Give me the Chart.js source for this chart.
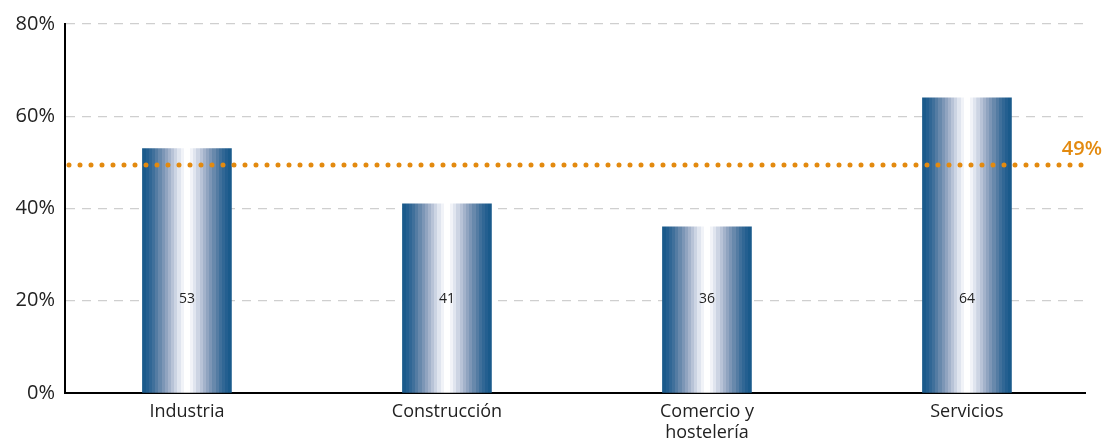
<!DOCTYPE html>
<html><head><meta charset="utf-8">
<script src="https://cdn.jsdelivr.net/npm/chart.js@4"></script>
<style>html,body{margin:0;padding:0;background:#fff}#wrap{width:1103px;height:442px;position:relative}</style>
</head><body><div id="wrap"><canvas id="c"></canvas></div>
<script>
const categories = [["Industria"], ["Construcción"], ["Comercio y", "hostelería"], ["Servicios"]];
const values = [53, 41, 36, 64];
const averageValue = [49];
const yTicks = [0, 20, 40, 60, 80];

const FONT = "'Open Sans', Lato, sans-serif";
const bandColors = ['#1a5a8b','#245f90','#316795','#40709b','#547ca3','#6889ac','#7c96b6','#90a4c0','#a4b3cb','#b8c3d7','#ccd4e3','#e0e5ef','#f1f3f8','#ffffff'];

function barGradient(ctx) {
  const chart = ctx.chart;
  const xs = chart.scales.x;
  if (!xs || ctx.dataIndex === undefined) return bandColors[0];
  const cx = xs.getPixelForValue(ctx.dataIndex);
  if (!isFinite(cx)) return bandColors[0];
  const half = 44.5;
  const g = chart.ctx.createLinearGradient(cx - half, 0, cx + half, 0);
  const n = bandColors.length;
  for (let i = 0; i < n; i++) {
    const a = (i / n) * 0.5, b = ((i + 1) / n) * 0.5;
    g.addColorStop(a, bandColors[i]);
    g.addColorStop(b - 0.0001, bandColors[i]);
    g.addColorStop(1 - b + 0.0001, bandColors[i]);
    g.addColorStop(1 - a, bandColors[i]);
  }
  return g;
}

const overlay = {
  id: 'overlay',
  afterDatasetsDraw(chart) {
    const {ctx, scales: {x, y}, chartArea} = chart;
    ctx.save();
    ctx.font = "14px " + FONT;
    ctx.fillStyle = '#222';
    ctx.textAlign = 'center';
    ctx.textBaseline = 'middle';
    values.forEach((v, i) => {
      ctx.fillText(String(v), x.getPixelForValue(i), y.getPixelForValue(20) - 2);
    });
    const ay = y.getPixelForValue(averageValue[0]) - 2;
    ctx.strokeStyle = '#e38a0f';
    ctx.lineWidth = 5;
    ctx.lineCap = 'round';
    ctx.setLineDash([0, 11]);
    ctx.beginPath();
    ctx.moveTo(chartArea.left + 4, ay);
    ctx.lineTo(chartArea.right, ay);
    ctx.stroke();
    ctx.setLineDash([]);
    ctx.fillStyle = '#e38a0f';
    ctx.font = "600 20px " + FONT;
    ctx.textAlign = 'right';
    ctx.textBaseline = 'alphabetic';
    ctx.fillText(averageValue[0] + '%', 1102, ay - 10);
    ctx.restore();
  }
};

new Chart(document.getElementById('c'), {
  type: 'bar',
  data: {
    labels: categories,
    datasets: [{
      data: values.map((v, i) => ({x: i, y: v})),
      backgroundColor: barGradient,
      barThickness: 89,
      borderWidth: 0
    }]
  },
  options: {
    responsive: true,
    maintainAspectRatio: false,
    animation: false,
    layout: {padding: {top: 24, right: 18, left: 0, bottom: 0}},
    plugins: {legend: {display: false}, tooltip: {enabled: false}},
    scales: {
      x: {
        type: 'linear',
        offset: false,
        bounds: 'ticks',
        min: -0.469,
        max: 3.454,
        afterBuildTicks(s) { s.ticks = categories.map((c, i) => ({value: i})); },
        afterFit(s) { s.height = 49; },
        ticks: {
          autoSkip: false,
          maxRotation: 0,
          padding: 9,
          color: '#222',
          font: {family: FONT, size: 18, lineHeight: 1.15},
          callback: (v) => categories[v]
        },
        grid: {display: false, drawTicks: false, offset: false},
        border: {display: true, color: '#000', width: 2}
      },
      y: {
        min: 0,
        max: 80,
        afterBuildTicks(s) { s.ticks = yTicks.map(v => ({value: v})); },
        afterFit(s) { s.width = 65; },
        ticks: {
          padding: 10,
          color: '#222',
          font: {family: FONT, size: 20},
          callback: (v) => v + '%'
        },
        grid: {color: (c) => c.tick && c.tick.value === 0 ? 'rgba(0,0,0,0)' : '#cfcfcf', lineWidth: 1.2, drawTicks: false},
        border: {display: true, color: '#000', width: 2, dash: [9, 7]}
      }
    }
  },
  plugins: [overlay]
});
</script>
</body></html>
